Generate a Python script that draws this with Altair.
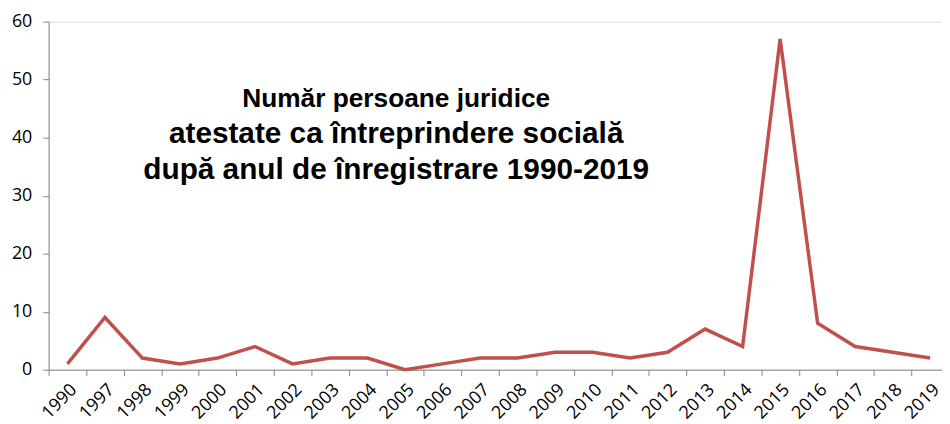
import altair as alt
import pandas as pd

years = ["1990", "1997", "1998", "1999", "2000", "2001", "2002", "2003", "2004",
         "2005", "2006", "2007", "2008", "2009", "2010", "2011", "2012", "2013",
         "2014", "2015", "2016", "2017", "2018", "2019"]
counts = [1, 9, 2, 1, 2, 4, 1, 2, 2, 0, 1, 2, 2, 3, 3, 2, 3, 7, 4, 57, 8, 4, 3, 2]

title_line1 = "Număr persoane juridice"
title_lines_rest = ["atestate ca întreprindere socială", "după anul de înregistrare 1990-2019"]

df = pd.DataFrame({"year": years, "count": counts})

axis_color = "#868686"

chart = alt.Chart(df).mark_line(color="#C0504D", strokeWidth=3.5).encode(
    x=alt.X("year:O", sort=None, bandPosition=0.5,
            scale=alt.Scale(type="band", paddingInner=0, paddingOuter=0, range=[0, 908]),
            axis=alt.Axis(title=None, labelAngle=-45, labelAlign="right", labelBaseline="top",
                          tickBand="extent", tickSize=6, tickColor=axis_color, domainColor=axis_color,
                          labelFont="Open Sans", labelFontSize=18, labelColor="#000000",
                          labelPadding=5, grid=False)),
    y=alt.Y("count:Q", scale=alt.Scale(domain=[0, 60]),
            axis=alt.Axis(title=None, values=[0, 10, 20, 30, 40, 50, 60], tickSize=6,
                          tickColor=axis_color, domainColor=axis_color,
                          labelFont="Open Sans", labelFontSize=18, labelColor="#000000",
                          labelPadding=11, grid=False)),
).properties(
    width=901, height=351,
    autosize=alt.AutoSizeParams(type="none"),
    padding={"left": 41, "top": 12, "right": 0, "bottom": 53},
    title=alt.Title(
        text=title_line1,
        subtitle=title_lines_rest,
        font="Liberation Sans", fontSize=26.5, fontWeight="bold", color="#000000",
        subtitleFont="Liberation Sans", subtitleFontSize=30, subtitleFontWeight="bold",
        subtitleColor="#000000", subtitleLineHeight=37, subtitlePadding=6,
        anchor="middle", frame="group", orient="top", dx=-100, dy=178,
    ),
).configure_view(stroke=None).configure(background="white")

chart.save("out.html", embed_options={"renderer": "svg", "actions": False})
